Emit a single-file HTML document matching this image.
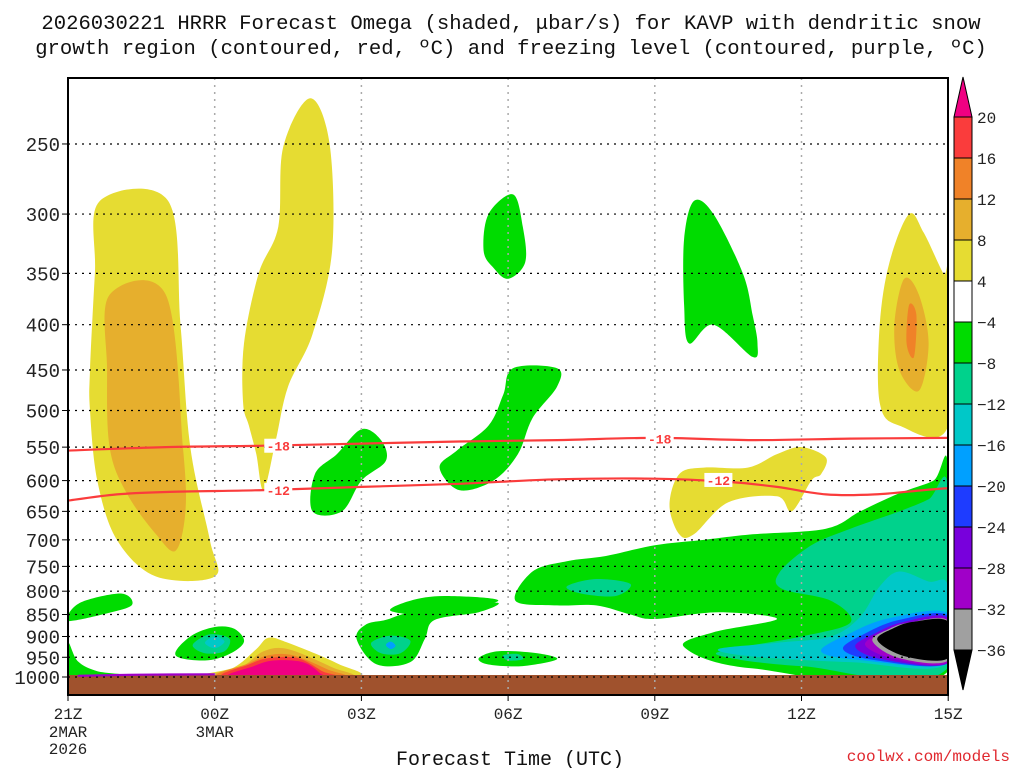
<!DOCTYPE html>
<html><head><meta charset="utf-8"><style>
body{margin:0;background:#fff;width:1024px;height:768px;overflow:hidden}
svg{display:block;font-family:"Liberation Mono",monospace}
</style></head><body>
<svg id="chart" width="1024" height="768" viewBox="0 0 1024 768">
<text x="511" y="29" font-size="20.6" text-anchor="middle" fill="#111">2026030221 HRRR Forecast Omega (shaded, μbar/s) for KAVP with dendritic snow</text>
<text x="511" y="54" font-size="20.6" text-anchor="middle" fill="#111">growth region (contoured, red, ºC) and freezing level (contoured, purple, ºC)</text>
<g id="fills"></g>
<rect x="68" y="675" width="880" height="20" fill="#a0522d"/>
<g id="grid"></g>
<g id="lines"></g>
<rect x="68" y="78" width="880" height="617" fill="none" stroke="#000" stroke-width="2"/>
<g id="axes"></g>
<g id="colorbar"></g>
<text x="510" y="765" font-size="20" text-anchor="middle" fill="#111">Forecast Time (UTC)</text>
<text x="1010" y="761" font-size="16" text-anchor="end" fill="#e0282e">coolwx.com/models</text>
</svg>
<script>
const pLevels=[250,300,350,400,450,500,550,600,650,700,750,800,850,900,950,1000];
const xTickHours=[0,3,6,9,12,15,18];
const xTickLabels=["21Z","00Z","03Z","06Z","09Z","12Z","15Z"];
const cbLevels=["20","16","12","8","4","−4","−8","−12","−16","−20","−24","−28","−32","−36"];
const cbColors=["#fa3c3c","#f08228","#e6af2d","#e6dc32","#ffffff","#00dc00","#00d28c","#00c8c8","#00a0ff","#1e3cff","#7800dc","#a000c8","#a0a0a0"];
const C={y:"#e6dc32",o1:"#e6af2d",o2:"#f08228",r:"#fa3c3c",m:"#f00082",g:"#00dc00",t:"#00d28c",c:"#00c8c8",lb:"#00a0ff",b:"#1e3cff",p1:"#7800dc",p2:"#a000c8",gr:"#a0a0a0",k:"#000"};
const regions=[
["y",[[0.45,450],[0.55,350],[0.65,290],[2.05,290],[2.3,400],[2.5,550],[2.9,700],[3.0,770],[1.8,770],[1.0,700],[0.6,600],[0.45,500]]],
["o1",[[0.8,450],[0.85,370],[2.0,370],[2.35,550],[2.4,650],[2.2,720],[1.8,690],[1.2,620],[0.85,550]]],
["y",[[3.58,490],[3.6,420],[3.9,350],[4.3,310],[4.4,252],[4.95,222],[5.35,250],[5.4,330],[5.0,410],[4.5,470],[4.25,540],[4.0,615],[3.85,560],[3.7,520]]],
["y",[[16.6,400],[16.8,340],[17.2,300],[17.5,315],[17.9,350],[18,350],[18,520],[17.0,520],[16.6,490]]],
["o1",[[16.9,400],[17.1,355],[17.4,370],[17.6,420],[17.4,475],[17.0,450]]],
["o2",[[17.2,380],[17.35,390],[17.3,435],[17.15,420]]],
["y",[[12.3,640],[12.5,590],[13.0,580],[13.9,580],[14.5,560],[15.0,550],[15.5,565],[15.4,590],[15.2,600],[14.8,650],[14.5,625],[13.5,635],[12.8,690],[12.5,690]]],
["g",[[8.5,330],[8.6,300],[9.1,285],[9.3,310],[9.35,340],[9.0,355],[8.7,345]]],
["g",[[9.1,448],[10.0,448],[10.0,470],[9.5,510],[9.2,560],[8.7,600],[8.0,615],[7.6,580],[7.95,555],[8.6,520],[8.9,480]]],
["g",[[5.0,650],[5.05,590],[5.5,560],[6.0,525],[6.4,540],[6.5,570],[6.0,600],[5.6,650]]],
["g",[[12.6,320],[12.8,290],[13.2,300],[13.8,350],[14.0,390],[14.1,420],[14.0,435],[13.2,400],[12.7,420],[12.6,380]]],
["g",[[9.15,820],[9.5,760],[10.2,740],[11.0,730],[12.0,710],[13.0,700],[14.0,690],[15.5,680],[16.2,650],[17.0,620],[17.7,600],[18,580],[18,985],[14.0,978],[12.6,925],[13.2,890],[14.5,860],[13.3,845],[12.0,860],[11.5,850],[10.8,830],[10.0,830]]],
["t",[[10.2,790],[10.8,775],[11.5,785],[11.2,810],[10.5,805]]],
["t",[[14.55,762],[15.2,710],[16.0,680],[17.0,650],[17.6,630],[18,610],[18,975],[15,972],[13.3,945],[13.8,925],[15.0,900],[16.0,868],[15.6,820],[14.6,795]]],
["c",[[13.3,930],[14.5,915],[15.6,900],[16.2,855],[16.6,790],[17.0,760],[17.6,780],[18,790],[18,965],[16,962],[14,948]]],
["lb",[[15.4,935],[16.0,892],[16.8,858],[18,848],[18,965],[16.2,957]]],
["b",[[15.85,930],[16.3,893],[17,862],[18,853],[18,965],[16.5,957]]],
["p1",[[16.1,925],[16.5,893],[17.1,866],[18,858],[18,964],[16.7,956]]],
["p2",[[16.3,920],[16.7,888],[17.2,870],[18,862],[18,963],[16.9,954]]],
["gr",[[16.45,910],[16.8,882],[17.2,868],[18,864],[18,958],[17.0,952]]],
["k",[[16.55,908],[16.9,880],[17.3,866],[18,866],[18,952],[17.1,947]]],
["g",[[0,850],[0.3,822],[1.1,805],[1.3,830],[0.7,850],[0,865]]],
["g",[[0,915],[0.2,960],[0.6,985],[1.2,995],[0,998]]],
["g",[[2.2,945],[2.5,900],[3.0,878],[3.4,882],[3.6,912],[3.3,942],[2.8,958]]],
["t",[[2.55,920],[2.9,895],[3.3,905],[3.2,935],[2.8,940]]],
["c",[[2.8,915],[3.0,900],[3.2,912],[3.0,928]]],
["g",[[5.9,905],[6.1,872],[6.5,862],[7,845],[8,830],[8.8,825],[8.4,845],[7.5,862],[7.3,905],[7.0,962],[6.3,967]]],
["g",[[6.6,842],[7,820],[7.7,810],[8.8,820],[7.5,850]]],
["t",[[6.2,915],[6.6,898],[7.0,910],[6.8,940],[6.4,940]]],
["lb",[[6.5,920],[6.6,912],[6.7,922],[6.6,930]]],
["g",[[8.4,952],[8.8,935],[9.6,940],[10.0,955],[9.3,972],[8.6,968]]],
["t",[[8.9,945],[9.2,942],[9.3,955],[9.0,958]]],
["y",[[2.8,1000],[3.4,975],[3.85,930],[4.1,903],[4.5,915],[5.5,965],[5.85,1000]]],
["o1",[[3.0,1000],[3.6,970],[4.0,935],[4.5,930],[5.4,975],[5.7,1000]]],
["o2",[[3.1,1000],[3.7,965],[4.1,945],[4.6,945],[5.3,980],[5.55,1000]]],
["r",[[3.2,1000],[3.7,968],[4.1,952],[4.7,952],[5.2,985],[5.4,1000]]],
["m",[[3.3,1000],[3.8,972],[4.2,958],[4.8,962],[5.15,990],[5.1,1000]]]
];
const iso18=[[0,555],[2,550],[4,548],[6,545],[8,542],[10,540],[12,537],[14,540],[16,538],[18,537]];
const iso12=[[0,632],[1,622],[2,618],[4,615],[6,610],[8,605],[10,598],[12,597],[13.5,602],[14.5,610],[15.5,622],[16.5,622],[17.5,615],[18,612]];
const freezeLine=[[0.2,997],[1.5,994],[3.0,993]];
const isoLabels=[["-18",4.3,548],["-12",4.3,615],["-18",12.1,538],["-12",13.3,599]];

const X=h=>68+h*48.9;
const Y=p=>677-384.5*Math.log(1000/p);
const NS="http://www.w3.org/2000/svg";
function mk(tag,attrs,parent){const e=document.createElementNS(NS,tag);for(const k in attrs)e.setAttribute(k,attrs[k]);parent.appendChild(e);return e;}
function smoothPath(pts,closed){
  const P=pts.map(([h,p])=>[X(h),Y(p)]);
  const n=P.length;let d="M"+P[0][0].toFixed(1)+","+P[0][1].toFixed(1);
  const lim=closed?n:n-1;
  for(let i=0;i<lim;i++){
    const p0=P[(i-1+n)%n],p1=P[i],p2=P[(i+1)%n],p3=P[(i+2)%n];
    const a=closed||i>0?p0:p1,b=closed||i+2<n?p3:p2;
    const c1=[p1[0]+(p2[0]-a[0])/6,p1[1]+(p2[1]-a[1])/6],c2=[p2[0]-(b[0]-p1[0])/6,p2[1]-(b[1]-p1[1])/6];
    d+=`C${c1[0].toFixed(1)},${c1[1].toFixed(1)} ${c2[0].toFixed(1)},${c2[1].toFixed(1)} ${p2[0].toFixed(1)},${p2[1].toFixed(1)}`;
  }
  return d+(closed?"Z":"");
}
const fills=document.getElementById("fills");
const clipEl=mk("clipPath",{id:"pc"},mk("defs",{},document.getElementById("chart")));
mk("rect",{x:68,y:78,width:880,height:617},clipEl);
fills.setAttribute("clip-path","url(#pc)");
regions.forEach(([k,pts])=>{
  const e=mk("path",{d:smoothPath(pts,true),fill:C[k]},fills);
  
  
});
const grid=document.getElementById("grid"),axes=document.getElementById("axes");
pLevels.forEach(p=>{
  const y=Y(p);
  const g=mk("line",{x1:68,x2:948,y1:y,y2:y,stroke:"#000","stroke-dasharray":"2,5","stroke-width":1.2},grid);
  
  
  mk("line",{x1:62,x2:68,y1:y,y2:y,stroke:"#000"},axes);
  const t=mk("text",{x:60,y:y+7,"font-size":19,"text-anchor":"end",fill:"#222"},axes);
  t.textContent=p;
  
  
});
xTickHours.forEach((h,i)=>{
  const x=X(h);
  if(i>0&&i<6){const g=mk("line",{x1:x,x2:x,y1:78,y2:695,stroke:"#aaa","stroke-dasharray":"2,5","stroke-width":1.5},grid);
  
  }
  mk("line",{x1:x,x2:x,y1:695,y2:701,stroke:"#000"},axes);
  const t=mk("text",{x:x,y:719,"font-size":16,"text-anchor":"middle",fill:"#222"},axes);
  t.textContent=xTickLabels[i];
  
  
});
[["2MAR",0,737],["2026",0,754],["3MAR",3,737]].forEach(([s,h,y])=>{
  const t=mk("text",{x:X(h),y:y,"font-size":16,"text-anchor":"middle",fill:"#222"},axes);
  t.textContent=s;
  
  
});
const lines=document.getElementById("lines");
[[iso18,"#fa3c3c"],[iso12,"#fa3c3c"],[freezeLine,"#a000c8"]].forEach(([pts,col])=>{
  const e=mk("path",{d:smoothPath(pts,false),fill:"none",stroke:col,"stroke-width":2.2},lines);
  
  
});
isoLabels.forEach(([s,h,p])=>{
  mk("rect",{x:X(h)-14,y:Y(p)-7,width:28,height:14,fill:"#fff"},lines);
  const t=mk("text",{x:X(h),y:Y(p)+5,"font-size":13,"font-weight":"bold","text-anchor":"middle",fill:"#fa3c3c"},lines);
  t.textContent=s;
  
  
});
const cb=document.getElementById("colorbar");
const bx=954,bw=18,cbTop=117,bh=41;
mk("polygon",{points:`${bx},${cbTop} ${bx+bw},${cbTop} ${bx+bw/2},77`,fill:"#f00082",stroke:"#000"},cb);
cbColors.forEach((c,i)=>{
  const r=mk("rect",{x:bx,y:cbTop+i*bh,width:bw,height:bh,fill:c,stroke:"#000","stroke-width":1},cb);
  
  
});
const cbBot=cbTop+cbColors.length*bh;
mk("polygon",{points:`${bx},${cbBot} ${bx+bw},${cbBot} ${bx+bw/2},690`,fill:"#000",stroke:"#000"},cb);
cbLevels.forEach((s,i)=>{
  const t=mk("text",{x:977,y:cbTop+i*bh+6,"font-size":16,fill:"#222"},cb);
  t.textContent=s;
  
  
});
</script>
</body></html>
